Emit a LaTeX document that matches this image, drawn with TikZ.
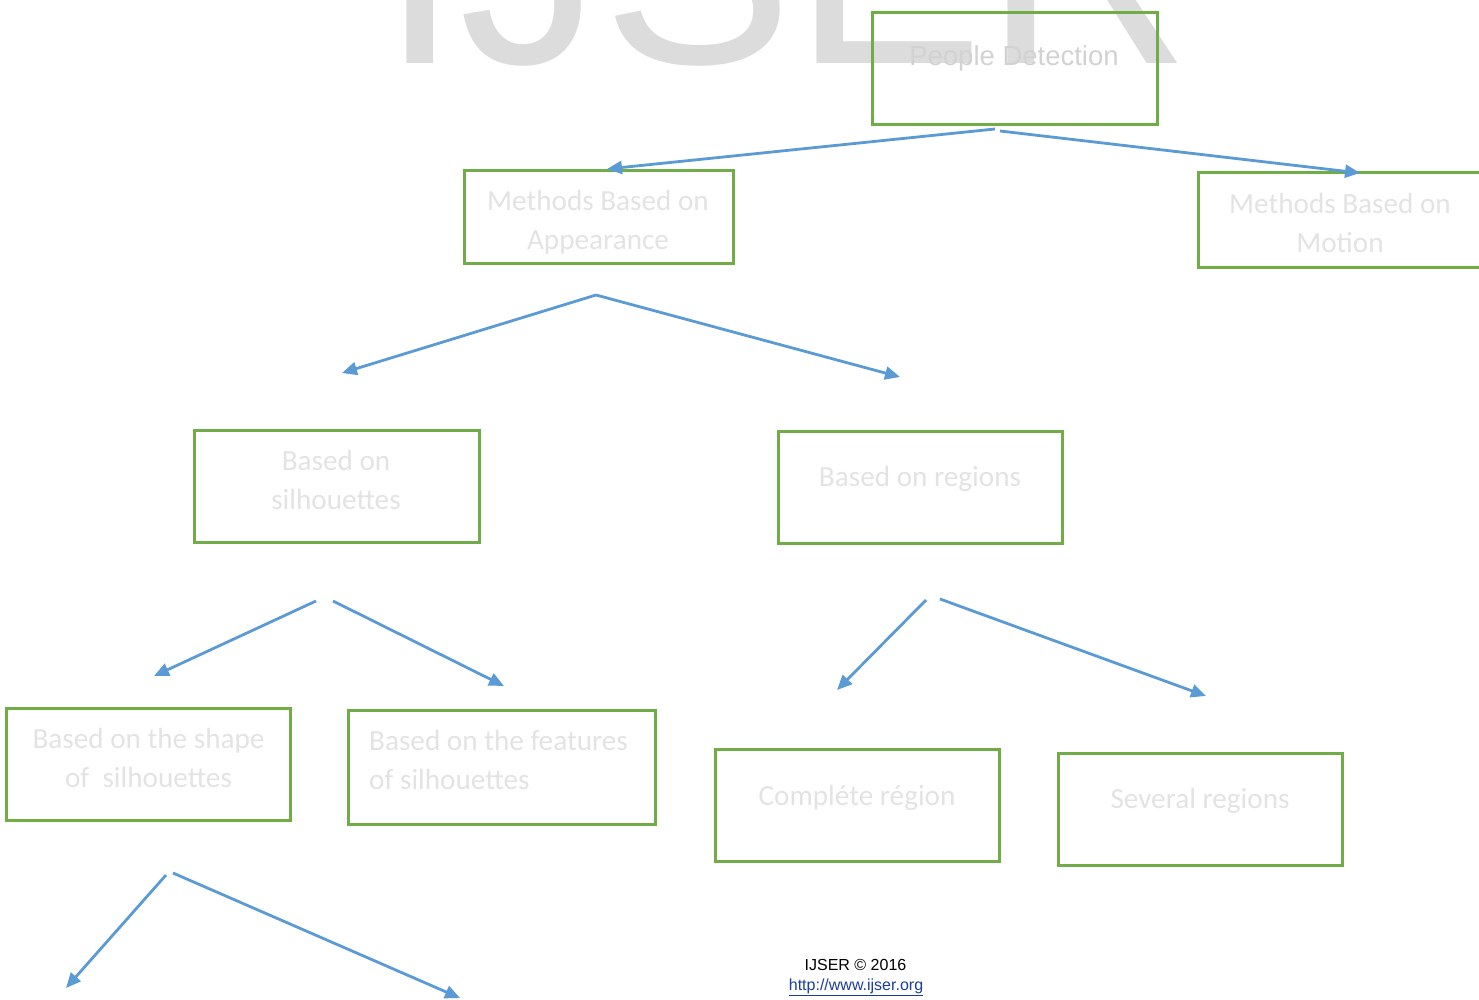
\documentclass[tikz,border=0pt]{standalone}
\usepackage{fontspec}
\setmainfont{Carlito}
\newfontfamily\arialf{Liberation Sans}
\usetikzlibrary{arrows.meta}
\definecolor{boxgreen}{HTML}{70AD47}
\definecolor{arrowblue}{HTML}{5B9BD5}
\definecolor{txtgray}{HTML}{E3E3E3}
\definecolor{pdgray}{HTML}{D2D2D2}
\definecolor{wmgray}{HTML}{DCDCDC}
\definecolor{linkblue}{HTML}{1A3E9E}
\begin{document}
\begin{tikzpicture}[x=1pt,y=-1pt,
  box/.style={draw=boxgreen, line width=3pt, inner sep=0pt},
  lbl/.style={text=txtgray, font=\fontsize{29.2}{39}\selectfont, align=center, inner sep=0pt, anchor=base},
  conn/.style={draw=arrowblue, line width=2.8pt, -{Triangle[length=15pt,width=13pt]}}]
\useasboundingbox (0,0) rectangle (1479,1000);
% watermark
\node[text=wmgray, font=\arialf\fontsize{286}{286}\selectfont, anchor=base west, inner sep=0pt] (wm) at (380,64) {IJSER};
% boxes
\node[box, minimum width=285pt, minimum height=112pt] (pd) at (1014.5,69) {};
\node[box, minimum width=269pt, minimum height=92pt] (app) at (598.5,217) {};
\node[box, minimum width=290pt, minimum height=94pt] (mot) at (1343,220) {};
\node[box, minimum width=285pt, minimum height=112pt] (sil) at (336.5,486) {};
\node[box, minimum width=284pt, minimum height=112pt] (reg) at (920,487) {};
\node[box, minimum width=284pt, minimum height=112pt] (shp) at (148,764) {};
\node[box, minimum width=307pt, minimum height=114pt] (fea) at (501.5,767) {};
\node[box, minimum width=284pt, minimum height=112pt] (cmp) at (857,805) {};
\node[box, minimum width=284pt, minimum height=112pt] (sev) at (1200,809) {};
% texts
\node[text=pdgray, font=\arialf\fontsize{27.5}{30}\selectfont, inner sep=0pt, anchor=base] (pdt) at (1014,66) {People Detection};
\node[lbl] (appt) at (598,250) {Methods Based on\\Appearance};
\node[lbl] (mott) at (1340,252) {Methods Based on\\Motion};
\node[lbl] (silt) at (336,509) {Based on\\silhouettes};
\node[lbl] (regt) at (920,486) {Based on regions};
\node[lbl] (shpt) at (148.5,787) {Based on the shape\\of\ \ silhouettes};
\node[lbl, align=left, anchor=base west] (feat) at (369,789) {Based on the features\\of silhouettes};
\node[lbl] (cmpt) at (857,805) {Compléte région};
\node[lbl] (sevt) at (1200,808) {Several regions};
% footer
\node[font=\arialf\fontsize{16}{20}\selectfont, inner sep=0pt, anchor=base] (ft1) at (855.5,970) {IJSER \textcopyright{} 2016};
\node[text=linkblue, font=\arialf\fontsize{16}{20}\selectfont, inner sep=0pt, anchor=base] (ft2) at (856,990) {\underline{http://www.ijser.org}};
% connector ends
\coordinate (c1s) at (995,129);  \coordinate (c1e) at (607,169);
\coordinate (c2s) at (1000,131); \coordinate (c2e) at (1360,173);
\coordinate (c3s) at (596,295);  \coordinate (c3e) at (342,373);
\coordinate (c4s) at (596,295);  \coordinate (c4e) at (900,377);
\coordinate (c5s) at (316,601);  \coordinate (c5e) at (154,676);
\coordinate (c6s) at (333,601);  \coordinate (c6e) at (504,686);
\coordinate (c7s) at (926,600);  \coordinate (c7e) at (837,690);
\coordinate (c8s) at (940,599);  \coordinate (c8e) at (1206,696);
\coordinate (c9s) at (166,875);  \coordinate (c9e) at (66,988);
\coordinate (c10s) at (173,873); \coordinate (c10e) at (460,998);
\foreach \i in {1,...,10} {\draw[conn] (c\i s) -- (c\i e);}
\end{tikzpicture}
\end{document}
